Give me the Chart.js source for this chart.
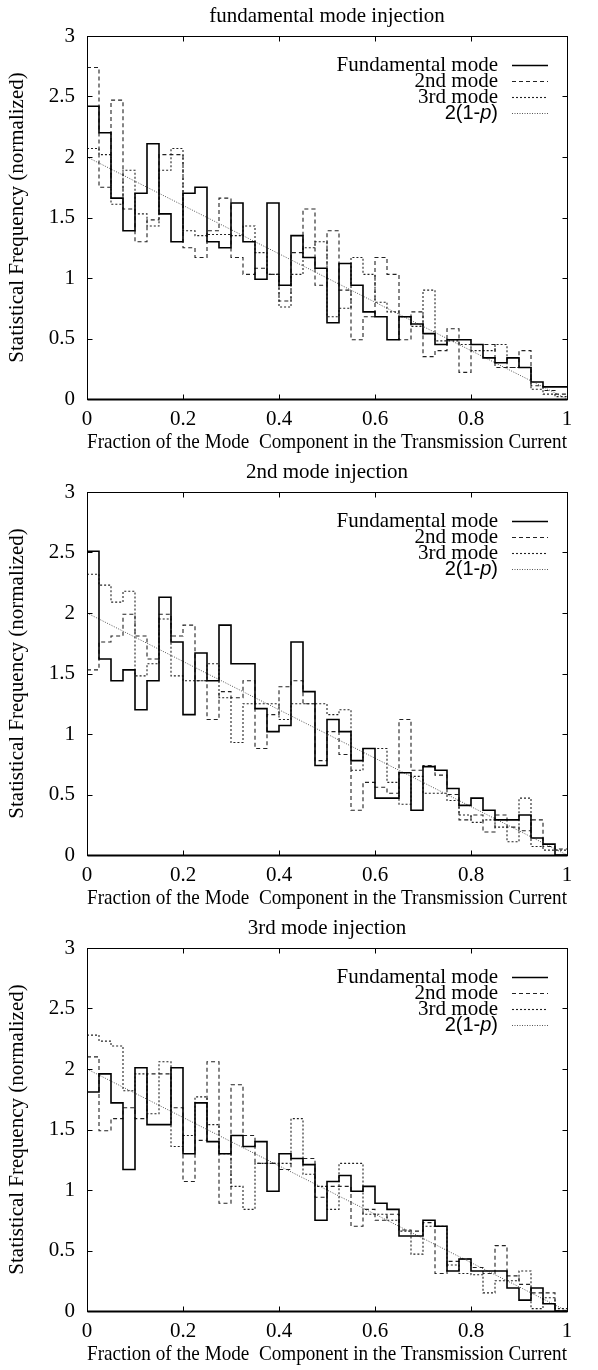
<!DOCTYPE html>
<html>
<head>
<meta charset="utf-8">
<script src="https://cdn.jsdelivr.net/npm/chart.js@4.4.1/dist/chart.umd.min.js"></script>
<style>
html,body{margin:0;padding:0;background:#fff;}
canvas{display:block;}
</style>
</head>
<body>
<canvas id="c1" width="598" height="456"></canvas>
<canvas id="c2" width="598" height="456"></canvas>
<canvas id="c3" width="598" height="456"></canvas>
<script>
// ---------- data ----------
const binCount = 40;                       // histogram bins of width 0.025
const xTicks = [0, 0.2, 0.4, 0.6, 0.8, 1];
const yTicks = [0, 0.5, 1, 1.5, 2, 2.5, 3];
const seriesLabels = ['Fundamental mode', '2nd mode', '3rd mode', '2(1-p)'];
const panelTitles = ['fundamental mode injection', '2nd mode injection', '3rd mode injection'];
const xAxisTitle = 'Fraction of the Mode  Component in the Transmission Current';
const yAxisTitle = 'Statistical Frequency (normalized)';
const theoryP = [0, 1];
const theoryY = [2, 0];   // 2(1-p)

// panel 1: fundamental mode injection
const p1Fund   = [2.42,2.20,1.66,1.39,1.70,2.11,1.53,1.30,1.70,1.75,1.30,1.25,1.62,1.30,0.99,1.62,0.94,1.35,1.17,1.08,0.63,1.12,0.94,0.72,0.68,0.49,0.68,0.62,0.54,0.45,0.49,0.49,0.45,0.34,0.30,0.34,0.26,0.14,0.10,0.10];
const p1Second = [2.74,1.75,2.47,1.57,1.30,1.48,2.02,2.02,1.25,1.17,1.39,1.66,1.17,1.03,1.08,1.03,0.81,1.21,1.57,0.94,1.39,0.90,0.49,0.68,1.17,1.03,0.49,0.72,0.35,0.40,0.58,0.22,0.45,0.45,0.26,0.26,0.40,0.11,0.07,0.04];
const p1Third  = [2.07,2.02,1.61,1.89,1.53,1.43,1.89,2.07,1.39,1.35,1.36,1.36,1.35,1.43,1.21,1.03,0.76,1.03,1.25,1.30,0.68,0.75,1.17,1.03,0.80,0.72,0.68,0.60,0.90,0.48,0.48,0.45,0.40,0.40,0.45,0.26,0.26,0.08,0.04,0.02];

// panel 2: 2nd mode injection
const p2Fund   = [2.51,1.62,1.44,1.53,1.20,1.44,2.13,1.76,1.16,1.67,1.44,1.90,1.58,1.58,1.21,1.02,1.07,1.76,1.35,0.74,1.12,1.02,0.78,0.88,0.47,0.47,0.68,0.37,0.73,0.70,0.55,0.41,0.47,0.37,0.29,0.29,0.33,0.14,0.09,0.00];
const p2Second = [1.53,1.76,1.81,1.99,1.81,1.62,1.99,1.81,1.90,1.44,1.12,1.35,1.30,1.44,0.88,1.16,1.39,1.44,1.25,0.78,1.02,0.83,0.37,0.60,0.56,0.51,1.12,0.70,0.74,0.66,0.50,0.29,0.33,0.19,0.33,0.23,0.20,0.29,0.07,0.05];
const p2Third  = [2.32,2.23,2.09,2.18,1.48,1.58,1.95,1.48,1.44,1.44,1.58,1.30,0.93,1.25,1.25,1.25,1.12,1.25,1.25,1.25,1.16,1.20,0.70,0.88,0.88,0.60,0.42,0.65,0.51,0.51,0.45,0.33,0.27,0.29,0.23,0.11,0.47,0.07,0.04,0.04];

// panel 3: 3rd mode injection
const p3Fund   = [1.81,1.96,1.72,1.17,2.01,1.54,1.54,2.01,1.30,1.72,1.40,1.30,1.45,1.36,1.40,0.99,1.30,1.26,1.21,0.75,1.07,1.12,0.99,1.03,0.89,0.84,0.62,0.62,0.75,0.70,0.33,0.43,0.33,0.33,0.33,0.19,0.09,0.19,0.06,0.00];
const p3Second = [2.10,1.49,1.59,1.68,1.59,1.96,1.96,1.68,1.07,1.41,2.06,0.89,1.87,1.45,1.22,1.22,1.17,1.26,1.26,0.94,1.03,1.03,0.70,0.84,0.75,0.80,0.67,0.66,0.73,0.31,0.41,0.43,0.36,0.31,0.54,0.29,0.22,0.15,0.15,0.00];
const p3Third  = [2.28,2.23,2.19,1.82,1.96,1.63,2.06,1.36,1.45,1.77,1.54,1.30,1.03,0.84,1.22,1.22,1.22,1.59,1.13,1.03,0.84,1.22,1.22,0.80,0.80,0.75,0.66,0.47,0.70,0.70,0.38,0.31,0.30,0.15,0.25,0.25,0.33,0.02,0.11,0.02];

// ---------- helpers ----------
const SERIF = '"Liberation Serif", "Times New Roman", serif';
const SANS = '"Liberation Sans", Arial, sans-serif';

function stepPoints(values) {
  const pts = values.map((v, i) => ({ x: i / binCount, y: v }));
  pts.push({ x: 1, y: values[values.length - 1] });
  return pts;
}

const framePlugin = {
  id: 'frameDeco',
  afterDatasetsDraw(chart, args, opts) {
    const { ctx, chartArea: a, scales: { x, y } } = chart;
    const L = Math.round(a.left) + 0.5, R = Math.round(a.right) + 0.5;
    const T = Math.round(a.top) + 0.5, B = Math.round(a.bottom) + 0.5;
    ctx.save();
    ctx.setLineDash([]);
    ctx.strokeStyle = '#000';
    ctx.lineWidth = 1;
    ctx.strokeRect(L, T, R - L, B - T);
    ctx.lineWidth = 2;
    ctx.beginPath(); ctx.moveTo(L, B); ctx.lineTo(R, B); ctx.stroke();
    ctx.lineWidth = 1;
    const tl = 5;
    ctx.beginPath();
    xTicks.forEach(v => {
      const px = Math.round(x.getPixelForValue(v)) + 0.5;
      ctx.moveTo(px, B); ctx.lineTo(px, B - tl);
      ctx.moveTo(px, T); ctx.lineTo(px, T + tl);
    });
    yTicks.forEach(v => {
      const py = Math.round(y.getPixelForValue(v)) + 0.5;
      ctx.moveTo(L, py); ctx.lineTo(L + tl, py);
      ctx.moveTo(R, py); ctx.lineTo(R - tl, py);
    });
    ctx.stroke();

    // panel title
    ctx.fillStyle = '#000';
    ctx.font = '21px ' + SERIF;
    ctx.textAlign = 'center';
    ctx.textBaseline = 'middle';
    ctx.fillText(opts.title, (a.left + a.right) / 2, 16);

    // legend (inside, top right)
    const textRight = a.right - 69;
    const lineL = a.right - 55, lineR = a.right - 19;
    chart.data.datasets.forEach((ds, i) => {
      const yy = a.top + 29 + i * 16;
      ctx.textAlign = 'left';
      ctx.textBaseline = 'middle';
      let parts;
      if (i === 3) {
        parts = [
          { t: '2(1-', f: '20px ' + SANS },
          { t: 'p', f: 'italic 20px ' + SANS },
          { t: ')', f: '20px ' + SANS }
        ];
      } else {
        parts = [{ t: ds.label, f: '21px ' + SERIF }];
      }
      let w = 0;
      parts.forEach(p => { ctx.font = p.f; w += ctx.measureText(p.t).width; });
      let cx = textRight - w;
      ctx.fillStyle = '#000';
      parts.forEach(p => { ctx.font = p.f; ctx.fillText(p.t, cx, yy); cx += ctx.measureText(p.t).width; });
      ctx.strokeStyle = ds.borderColor;
      ctx.lineWidth = ds.borderWidth;
      ctx.setLineDash(ds.borderDash || []);
      ctx.beginPath();
      ctx.moveTo(lineL, Math.round(yy) + 0.5);
      ctx.lineTo(lineR, Math.round(yy) + 0.5);
      ctx.stroke();
      ctx.setLineDash([]);
    });
    ctx.restore();
  }
};

function makeChart(id, title, fund, second, third) {
  const tickFont = { family: SERIF, size: 21 };
  return new Chart(document.getElementById(id), {
    type: 'line',
    data: {
      datasets: [
        { label: seriesLabels[0], data: stepPoints(fund), borderColor: '#000', borderWidth: 1.6, stepped: true, pointRadius: 0, fill: false },
        { label: seriesLabels[1], data: stepPoints(second), borderColor: '#222', borderWidth: 1.1, borderDash: [4, 3], stepped: true, pointRadius: 0, fill: false },
        { label: seriesLabels[2], data: stepPoints(third), borderColor: '#222', borderWidth: 1.1, borderDash: [2, 2], stepped: true, pointRadius: 0, fill: false },
        { label: seriesLabels[3], data: theoryP.map((p, i) => ({ x: p, y: theoryY[i] })), borderColor: '#555', borderWidth: 1, borderDash: [1, 1.5], pointRadius: 0, fill: false }
      ]
    },
    options: {
      responsive: false,
      animation: false,
      clip: false,
      layout: { padding: { top: 36, right: 31, left: 0, bottom: 0 } },
      plugins: {
        legend: { display: false },
        tooltip: { enabled: false },
        title: { display: false },
        frameDeco: { title: title }
      },
      scales: {
        x: {
          type: 'linear', min: 0, max: 1,
          afterBuildTicks: s => { s.ticks = xTicks.map(v => ({ value: v })); },
          afterFit: s => { s.height = 57; },
          grid: { display: false, drawTicks: false },
          border: { display: false },
          ticks: { font: tickFont, color: '#000', padding: 8, maxRotation: 0, autoSkip: false,
                   callback: v => String(+v.toFixed(1)) },
          title: { display: true, text: xAxisTitle, font: tickFont, color: '#000', padding: { top: 0, bottom: 1 } }
        },
        y: {
          type: 'linear', min: 0, max: 3,
          afterBuildTicks: s => { s.ticks = yTicks.map(v => ({ value: v })); },
          afterFit: s => { s.width = 87; },
          grid: { display: false, drawTicks: false },
          border: { display: false },
          ticks: { font: tickFont, color: '#000', padding: 12, autoSkip: false,
                   callback: v => String(+v.toFixed(1)) },
          title: { display: true, text: yAxisTitle, font: tickFont, color: '#000', padding: { top: 5, bottom: 0 } }
        }
      }
    },
    plugins: [framePlugin]
  });
}

makeChart('c1', panelTitles[0], p1Fund, p1Second, p1Third);
makeChart('c2', panelTitles[1], p2Fund, p2Second, p2Third);
makeChart('c3', panelTitles[2], p3Fund, p3Second, p3Third);
</script>
</body>
</html>
